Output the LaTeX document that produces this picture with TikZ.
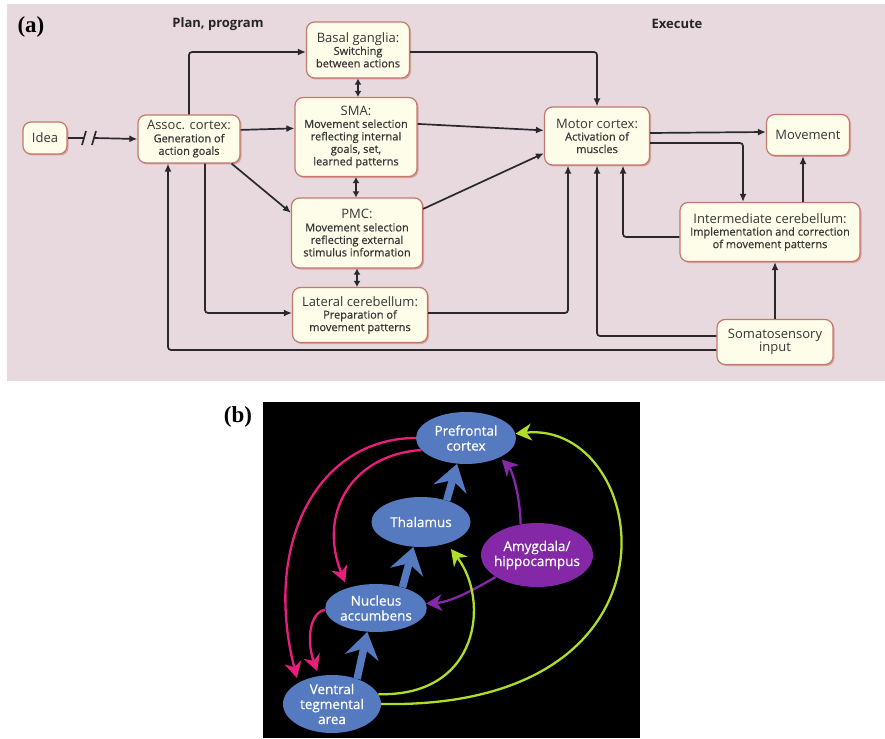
\documentclass[tikz,border=0pt]{standalone}
\usepackage{fontspec}
\setmainfont{Open Sans}
\newfontfamily\semi{Open Sans}[FakeBold=0.6]
\newfontfamily\serifa{Liberation Serif}
\usetikzlibrary{arrows.meta,shadows,shapes.geometric,positioning}

\definecolor{fundo}{RGB}{232,217,223}
\definecolor{caixafundo}{RGB}{254,253,233}
\definecolor{caixaborda}{RGB}{196,120,110}
\definecolor{linha}{RGB}{40,40,45}
\definecolor{texto}{RGB}{55,55,55}
\definecolor{azul}{RGB}{86,122,192}
\definecolor{roxo}{RGB}{132,40,168}
\definecolor{rosa}{RGB}{232,30,125}
\definecolor{verde}{RGB}{176,222,40}

\newcommand{\titulo}[1]{{\normalfont\fontsize{13}{13.5}\selectfont #1}}

\tikzset{
	caixa/.style={draw=caixaborda, fill=caixafundo, line width=1.2pt, rounded corners=8pt,
		align=center, text=texto, font=\semi\fontsize{11}{12.5}\selectfont, inner sep=1pt,
		drop shadow={shadow xshift=1.5pt, shadow yshift=-1.5pt, fill=caixaborda, opacity=0.55}},
	seta/.style={-{Latex[length=8pt,width=7pt]}, line width=1.7pt, draw=linha, rounded corners=3pt},
	dupla/.style={{Latex[length=6pt,width=7pt]}-{Latex[length=6pt,width=7pt]}, line width=1.7pt, draw=linha},
	traco/.style={line width=1.7pt, draw=linha},
	elipse/.style={ellipse, fill=azul, text=white, align=center, inner sep=0pt,
		font=\semi\fontsize{13.5}{15}\selectfont},
	grossa/.style={-{Stealth[length=26pt,width=34pt,inset=9pt]}, line width=7.5pt, draw=azul},
	fina/.style={-{Stealth[length=16pt,width=17pt,inset=5pt]}, line width=2.3pt},
}

\begin{document}
\begin{tikzpicture}[x=1pt,y=-1pt]
	\useasboundingbox (0,0) rectangle (885,738);

% painel (a)
	\fill[fundo] (7,4) rectangle (885,381);
	\node[font=\serifa\bfseries\fontsize{23}{25}\selectfont] (rotuloa) at (31,27) {(a)};
	\node[font=\bfseries\fontsize{13}{15}\selectfont, text=black!85] (plano) at (218,24) {Plan, program};
	\node[font=\bfseries\fontsize{13}{15}\selectfont, text=black!85] (executa) at (677,24) {Execute};

	\node[caixa, minimum width=44pt, minimum height=32pt] (ideia) at (45,138) {\titulo{Idea}};
	\node[caixa, minimum width=102pt, minimum height=48pt] (assoc) at (189,139)
		{\titulo{Assoc. cortex:}\\Generation of\\action goals};
	\node[caixa, minimum width=103pt, minimum height=56pt] (basal) at (358,50)
		{\titulo{Basal ganglia:}\\Switching\\between actions};
	\node[caixa, minimum width=122pt, minimum height=79pt] (sma) at (356,137)
		{\titulo{SMA:}\\Movement selection\\reflecting internal\\goals, set,\\learned patterns};
	\node[caixa, minimum width=131pt, minimum height=70pt] (pmc) at (357,233)
		{\titulo{PMC:}\\Movement selection\\reflecting external\\stimulus information};
	\node[caixa, minimum width=135pt, minimum height=55pt] (latcb) at (360,315)
		{\titulo{Lateral cerebellum:}\\Preparation of\\movement patterns};
	\node[caixa, minimum width=105pt, minimum height=58pt] (motor) at (597,136)
		{\titulo{Motor cortex:}\\Activation of\\muscles};
	\node[caixa, minimum width=83pt, minimum height=41pt] (movim) at (808,135) {\titulo{Movement}};
	\node[caixa, minimum width=180pt, minimum height=59pt] (intcb) at (770,232)
		{\titulo{Intermediate cerebellum:}\\Implementation and correction\\of movement patterns};
	\node[caixa, minimum width=116pt, minimum height=45pt] (somato) at (775,342)
		{\titulo{Somatosensory}\\\titulo{input}};

% ligacoes (a)
	\coordinate (q1) at (84,138);
	\coordinate (q2) at (94,138);
	\draw[traco] (ideia.east) -- (q1);
	\draw[traco] ([shift={(-2,7)}]q1) -- ([shift={(2,-7)}]q1);
	\draw[traco] ([shift={(-2,7)}]q2) -- ([shift={(2,-7)}]q2);
	\draw[seta] (q2) -- (assoc.west);

	\draw[seta] (assoc.north) |- ([yshift=-2pt]basal.west);
	\draw[seta] (assoc.10) -- (sma.172);
	\draw[seta] ([xshift=-9pt]assoc.south east) -- (pmc.163);
	\draw[seta] ([xshift=16pt]assoc.south) |- ([yshift=2pt]latcb.west);
	\draw[seta] ([yshift=-8pt]somato.west) -| ([xshift=-21pt]assoc.south);

	\draw[dupla] (basal.south) -- (basal.south |- sma.north);
	\draw[dupla] (sma.south) -- (sma.south |- pmc.north);
	\draw[dupla] (pmc.south) -- (pmc.south |- latcb.north);

	\draw[seta] ([yshift=-2pt]basal.east) -| (motor.north);
	\draw[seta] (sma.12) -- (motor.174);
	\draw[seta] (pmc.20) -- (motor.198);
	\draw[seta] ([yshift=2pt]latcb.east) -| ([xshift=-29pt]motor.south);
	\draw[seta] ([yshift=6pt]somato.west) -| (motor.south);
	\draw[seta] ([yshift=-5pt]intcb.west) -| ([xshift=26pt]motor.south);
	\draw[seta] ([yshift=3pt]motor.east) -- ([yshift=3pt]movim.west);
	\draw[seta] ([yshift=-7pt]motor.east) -| ([xshift=-27pt]intcb.north);
	\draw[seta] ([xshift=33pt]intcb.north) -- ([xshift=33pt]intcb.north |- movim.south);
	\draw[seta] (somato.north) -- (somato.north |- intcb.south);

% painel (b)
	\fill[black] (263,402) rectangle (640,738);
	\node[font=\serifa\bfseries\fontsize{23}{25}\selectfont] (rotulob) at (238,417) {(b)};

	\node[elipse, minimum width=100pt, minimum height=52pt] (pfc) at (466,438) {Prefrontal\\cortex};
	\node[elipse, minimum width=99pt, minimum height=50pt] (tal) at (421,522) {Thalamus};
	\node[elipse, fill=roxo, inner xsep=-4pt, minimum width=112pt, minimum height=64pt] (amig) at (537,555)
		{Amygdala/\\hippocampus};
	\node[elipse, minimum width=100pt, minimum height=48pt] (nacc) at (376,608) {Nucleus\\accumbens};
	\node[elipse, inner ysep=-6pt, minimum width=98pt, minimum height=58pt] (vta) at (332,704)
		{Ventral\\tegmental\\area};

% ligacoes (b)
	\draw[grossa] (vta.45) -- (nacc.250);
	\draw[grossa] (nacc.38) -- (tal.253);
	\draw[grossa] (tal.40) -- (pfc.251);

	\draw[fina, rosa, shorten >=5pt] (pfc.180) .. controls (320,438) and (262,540) .. (vta.148);
	\draw[fina, rosa, shorten >=6pt] (pfc.195) .. controls (350,455) and (318,515) .. (nacc.145);
	\draw[fina, rosa, shorten >=5pt] (nacc.182) .. controls (310,612) and (306,640) .. (vta.115);

	\draw[fina, roxo, shorten >=3pt] (amig.118) .. controls (520,495) and (512,470) .. (pfc.-30);
	\draw[fina, roxo] (amig.208) .. controls (470,592) and (450,602) .. (nacc.5);

	\draw[fina, verde, shorten >=7pt] (vta.12) .. controls (480,697) and (490,600) .. (tal.-40);
	\draw[fina, verde] (vta.0) .. controls (700,710) and (650,420) .. (pfc.5);
\end{tikzpicture}
\end{document}
